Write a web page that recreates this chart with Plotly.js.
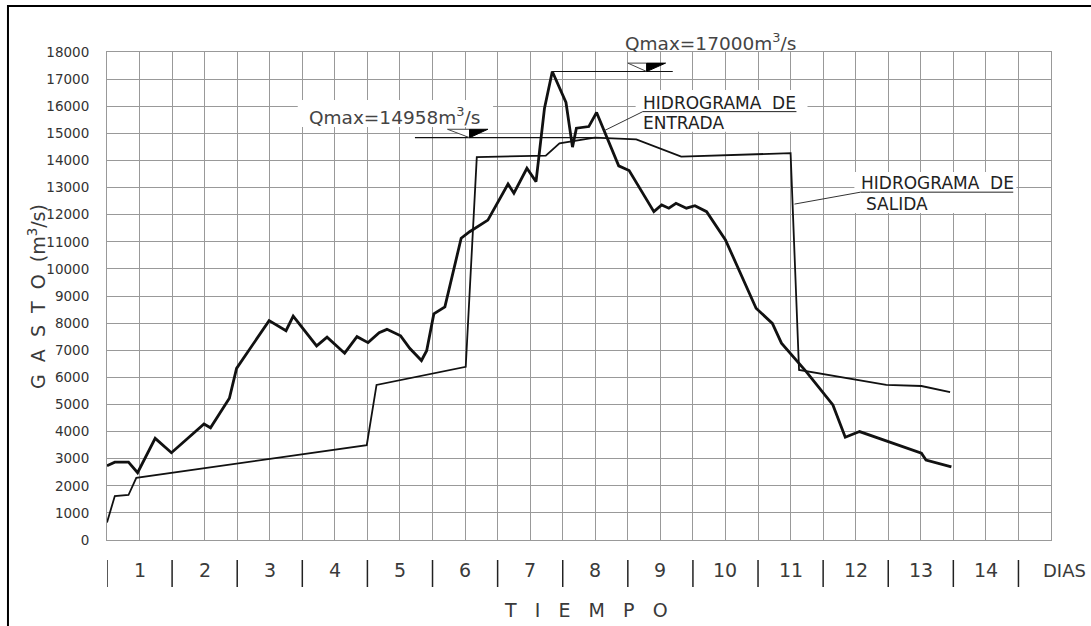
<!DOCTYPE html>
<html>
<head>
<meta charset="utf-8">
<script src="https://cdn.plot.ly/plotly-3.0.1.min.js"></script>
<style>html,body{margin:0;padding:0;background:#fff;}#chart{width:1091px;height:626px;}</style>
</head>
<body>
<div id="chart"></div>
<script>
// ---- data (days, m3/s) ----
const inflowDays = [0, 0.12, 0.33, 0.47, 0.74, 0.99, 1.49, 1.59, 1.88, 1.99, 2.49, 2.75, 2.86, 3.22, 3.38, 3.65, 3.84, 4.01, 4.18, 4.30, 4.51, 4.65, 4.83, 4.91, 5.02, 5.19, 5.44, 5.57, 5.85, 6.16, 6.25, 6.45, 6.59, 6.72, 6.84, 7.05, 7.15, 7.21, 7.40, 7.52, 7.86, 8.02, 8.40, 8.52, 8.63, 8.74, 8.90, 9.03, 9.21, 9.50, 9.97, 10.22, 10.36, 10.74, 11.15, 11.34, 11.56, 12.51, 12.58, 12.97];
const inflowQ = [2740, 2870, 2870, 2480, 3750, 3220, 4280, 4140, 5230, 6330, 8090, 7720, 8260, 7160, 7480, 6890, 7500, 7280, 7650, 7770, 7530, 7070, 6620, 6980, 8340, 8600, 11130, 11370, 11800, 13130, 12790, 13710, 13220, 15930, 17280, 16140, 14490, 15190, 15250, 15770, 13800, 13630, 12110, 12360, 12240, 12420, 12240, 12330, 12110, 11070, 8550, 7990, 7260, 6210, 4980, 3790, 4000, 3200, 2950, 2700];
const outflowDays = [0, 0.12, 0.33, 0.45, 3.99, 4.14, 5.51, 5.68, 6.74, 6.95, 7.49, 8.13, 8.82, 10.50, 10.63, 11.20, 11.97, 12.51, 12.95];
const outflowQ = [650, 1620, 1660, 2290, 3500, 5720, 6390, 14120, 14180, 14630, 14840, 14780, 14140, 14270, 6270, 6030, 5720, 5680, 5450];
const dayLabels = ['1','2','3','4','5','6','7','8','9','10','11','12','13','14'];
const unitLabel = 'DIAS';
const qmaxInLabel = 'Qmax=17000m<sup>3</sup>/s';
const qmaxOutLabel = 'Qmax=14958m<sup>3</sup>/s';

const F = 'DejaVu Sans, Liberation Sans, sans-serif';
const TXT = '#3a3a3a';
const NB = '\u00A0';

const traces = [
  {x: inflowDays, y: inflowQ, type: 'scatter', mode: 'lines', line: {color: '#111', width: 2.8}, hoverinfo: 'skip', showlegend: false},
  {x: outflowDays, y: outflowQ, type: 'scatter', mode: 'lines', line: {color: '#111', width: 1.8}, hoverinfo: 'skip', showlegend: false}
];

// peaks
const iIn = inflowQ.indexOf(Math.max(...inflowQ));
const iOut = outflowQ.indexOf(Math.max(...outflowQ));
const pkInX = inflowDays[iIn], pkInY = inflowQ[iIn];
const pkOutX = outflowDays[iOut], pkOutY = outflowQ[iOut];

const shapes = [];
const annotations = [];

// outer frame
shapes.push({type: 'rect', xref: 'paper', yref: 'paper', x0: -0.1049, x1: 1.3, y0: -0.5, y1: 1.0943, line: {color: '#000', width: 2}, layer: 'above'});

// day separators and labels
for (let i = 0; i <= dayLabels.length; i++) {
  shapes.push({type: 'line', xref: 'x', yref: 'paper', x0: i, x1: i, y0: -0.041, y1: -0.0963, line: {color: '#222', width: 1.5}});
}
dayLabels.forEach((t, i) => {
  annotations.push({x: i + 0.5, y: -0.0615, xref: 'x', yref: 'paper', xanchor: 'center', yanchor: 'middle', text: t, showarrow: false, font: {family: F, size: 19, color: TXT}});
});
annotations.push({x: 1.0148, y: -0.0615, xref: 'paper', yref: 'paper', xanchor: 'center', yanchor: 'middle', text: unitLabel, showarrow: false, font: {family: F, size: 18, color: TXT}});
annotations.push({x: 0.507, y: -0.1434, xref: 'paper', yref: 'paper', xanchor: 'center', yanchor: 'middle', text: ['T','I','E','M','P','O'].join(NB + NB + NB), showarrow: false, font: {family: F, size: 19, color: TXT}});
annotations.push({x: -0.0742, y: 0.50, xref: 'paper', yref: 'paper', xanchor: 'center', yanchor: 'middle', textangle: -90, text: ['G','A','S','T','O'].join(NB + NB) + NB + NB + '(m<sup>3</sup>/s)', showarrow: false, font: {family: F, size: 19, color: TXT}});

// white label backgrounds (drawn above grid)
shapes.push({type: 'rect', x0: 2.93, x1: 5.93, y0: 15236, y1: 16232, fillcolor: '#fff', line: {width: 0}, layer: 'above'});
shapes.push({type: 'rect', x0: 8.12, x1: 10.76, y0: 15060, y1: 16600, fillcolor: '#fff', line: {width: 0}, layer: 'above'});
shapes.push({type: 'rect', x0: 11.48, x1: 13.97, y0: 12063, y1: 13575, fillcolor: '#fff', line: {width: 0}, layer: 'above'});

// Qmax inflow marker
shapes.push({type: 'line', x0: pkInX, x1: 8.69, y0: pkInY, y1: pkInY, line: {color: '#111', width: 1.2}});
shapes.push({type: 'path', path: `M 8.00,${pkInY + 310} L 8.29,${pkInY + 310} L 8.29,${pkInY} Z`, fillcolor: '#fff', line: {color: '#444', width: 1}});
shapes.push({type: 'path', path: `M 8.29,${pkInY + 310} L 8.58,${pkInY + 310} L 8.29,${pkInY} Z`, fillcolor: '#000', line: {color: '#000', width: 1}});
annotations.push({x: 0.6398, y: 1.0205, xref: 'paper', yref: 'paper', xanchor: 'center', yanchor: 'middle', text: qmaxInLabel, showarrow: false, font: {family: F, size: 18.5, color: '#444'}});

// Qmax outflow marker
shapes.push({type: 'line', x0: 4.73, x1: pkOutX, y0: pkOutY, y1: pkOutY, line: {color: '#111', width: 1.2}});
shapes.push({type: 'path', path: `M 5.23,${pkOutY + 310} L 5.57,${pkOutY + 310} L 5.57,${pkOutY} Z`, fillcolor: '#fff', line: {color: '#444', width: 1}});
shapes.push({type: 'path', path: `M 5.57,${pkOutY + 310} L 5.85,${pkOutY + 310} L 5.57,${pkOutY} Z`, fillcolor: '#000', line: {color: '#000', width: 1}});
annotations.push({x: 4.42, y: 15640, xanchor: 'center', yanchor: 'middle', text: qmaxOutLabel, showarrow: false, font: {family: F, size: 18.5, color: '#444'}});

// HIDROGRAMA DE ENTRADA
annotations.push({x: 8.20, y: 16130, xanchor: 'left', yanchor: 'middle', text: 'HIDROGRAMA' + NB + NB + 'DE', showarrow: false, font: {family: F, size: 17, color: '#222'}});
annotations.push({x: 8.20, y: 15394, xanchor: 'left', yanchor: 'middle', text: 'ENTRADA', showarrow: false, font: {family: F, size: 17, color: '#222'}});
shapes.push({type: 'line', x0: 8.23, x1: 10.59, y0: 15800, y1: 15800, line: {color: '#222', width: 1}, layer: 'above'});
shapes.push({type: 'line', x0: 7.64, x1: 8.23, y0: 15100, y1: 15800, line: {color: '#333', width: 1}, layer: 'above'});

// HIDROGRAMA DE SALIDA
annotations.push({x: 11.55, y: 13181, xanchor: 'left', yanchor: 'middle', text: 'HIDROGRAMA' + NB + NB + 'DE', showarrow: false, font: {family: F, size: 17, color: '#222'}});
annotations.push({x: 11.62, y: 12395, xanchor: 'left', yanchor: 'middle', text: 'SALIDA', showarrow: false, font: {family: F, size: 17, color: '#222'}});
shapes.push({type: 'line', x0: 11.575, x1: 13.92, y0: 12830, y1: 12830, line: {color: '#222', width: 1}, layer: 'above'});
shapes.push({type: 'line', x0: 10.56, x1: 11.575, y0: 12390, y1: 12830, line: {color: '#333', width: 1}, layer: 'above'});

const layout = {
  width: 1091, height: 626,
  margin: {l: 107, r: 40, t: 52, b: 86},
  paper_bgcolor: '#fff', plot_bgcolor: '#fff',
  showlegend: false,
  xaxis: {range: [0, 14.5], dtick: 0.5, tick0: 0, showticklabels: false, ticks: '', showgrid: true, gridcolor: '#999', gridwidth: 1, zeroline: false, showline: true, mirror: true, linecolor: '#999', linewidth: 1},
  yaxis: {range: [0, 18000], dtick: 1000, tick0: 0, tickformat: 'd', ticks: '', showgrid: true, gridcolor: '#999', gridwidth: 1, zeroline: false, showline: true, mirror: true, linecolor: '#999', linewidth: 1, ticklabelstandoff: 14, tickfont: {family: F, size: 13.5, color: '#333'}},
  shapes: shapes,
  annotations: annotations
};

Plotly.newPlot('chart', traces, layout, {staticPlot: true, displayModeBar: false});
</script>
</body>
</html>
